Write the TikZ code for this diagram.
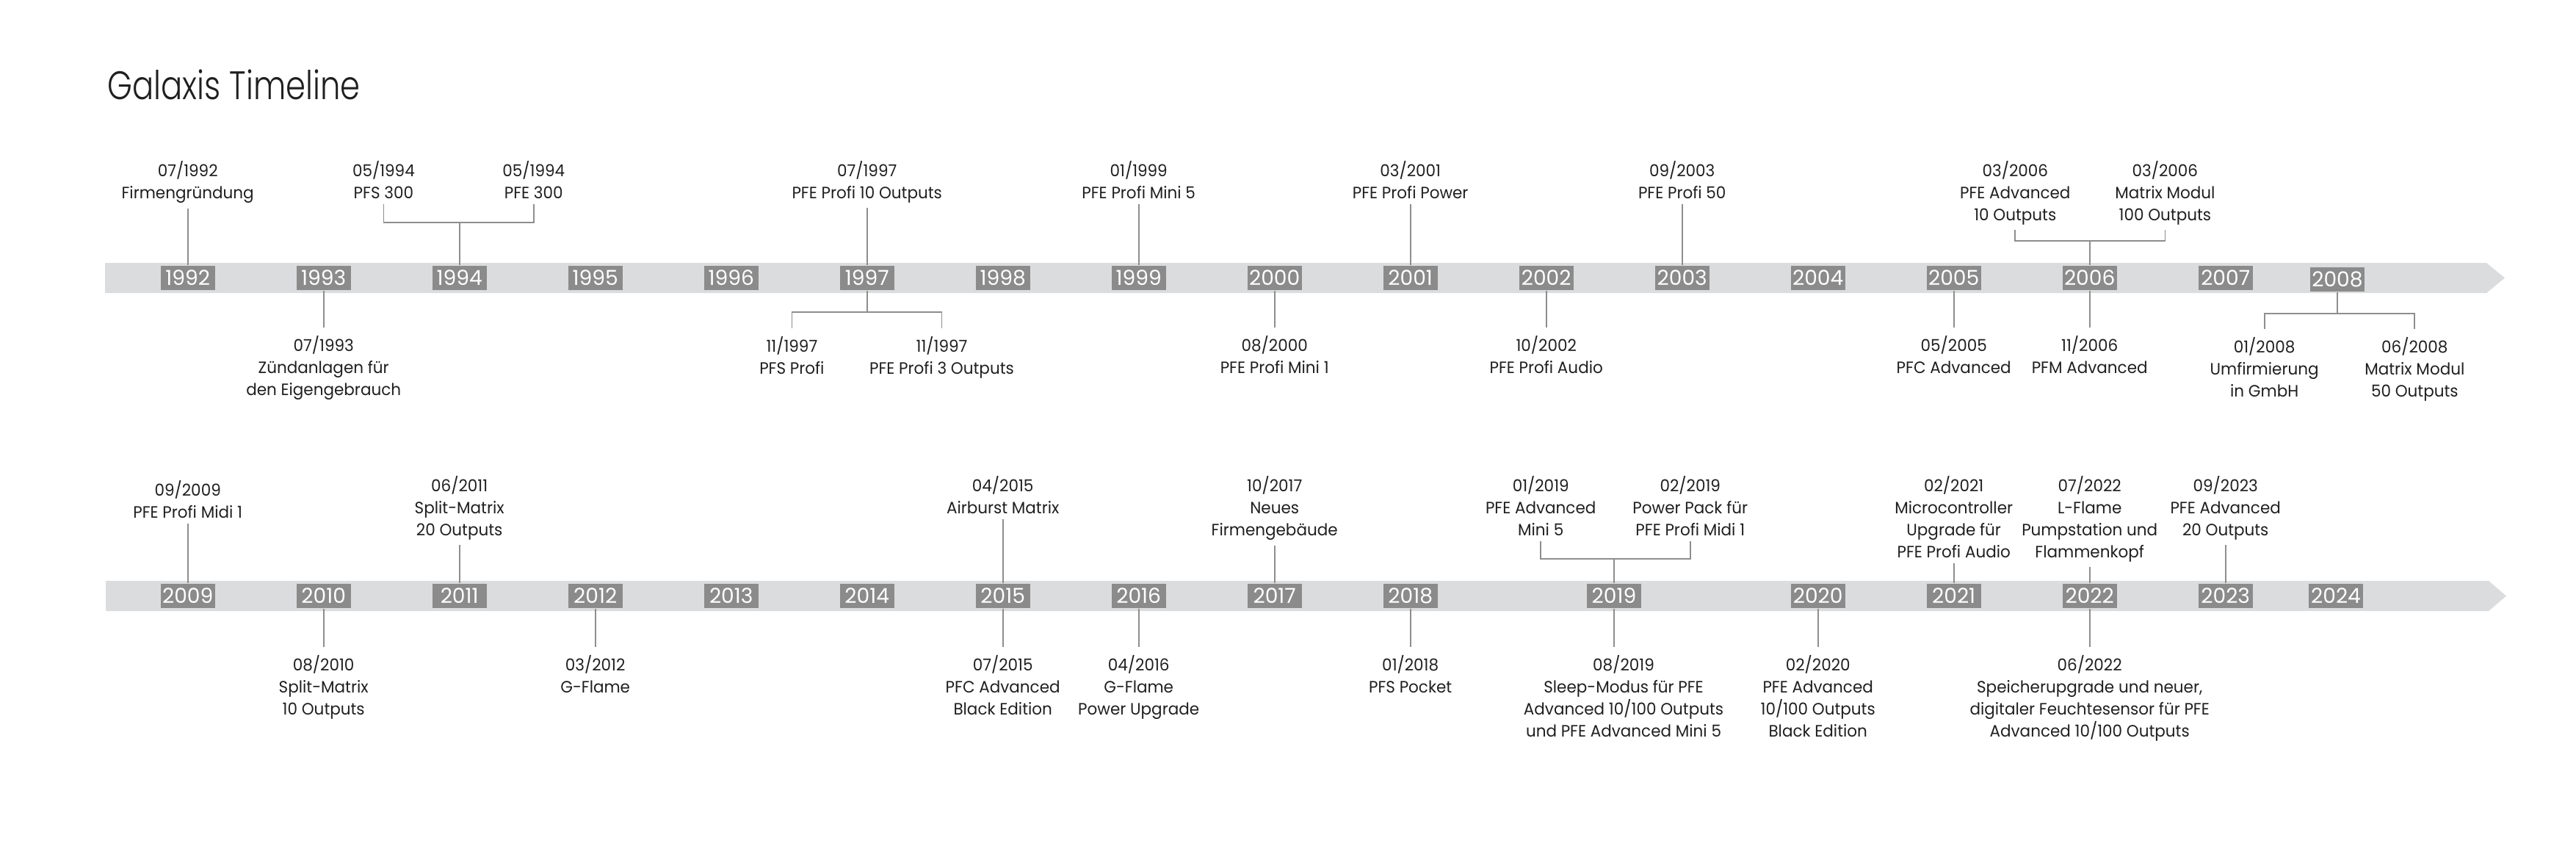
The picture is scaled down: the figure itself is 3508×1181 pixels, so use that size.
\documentclass[tikz,border=0pt]{standalone}
\usepackage{fontspec}
\setmainfont{Poppins}[FakeStretch=0.96]
\newfontfamily\yearfont{Poppins}
\IfFontExistsTF{Poppins Light}
	{\newfontfamily\titlefont{Poppins Light}[FakeStretch=0.8]}
	{\newfontfamily\titlefont{Poppins}[FakeStretch=0.8]}
\definecolor{bandgray}{HTML}{DBDCDE}
\definecolor{boxgray}{HTML}{8B8B8B}
\definecolor{linegray}{HTML}{8E8E8E}
\definecolor{ink}{HTML}{1F1F1F}
\newcommand{\lblfont}{\fontsize{6.37}{8.54}\selectfont}
\begin{document}
\begin{tikzpicture}[x=0.01cm,y=-0.01cm,
	yearbox/.style={fill=boxgray,text=white,inner sep=0pt,
	minimum width=0.74cm,minimum height=0.33cm,font=\yearfont\fontsize{8}{9}\selectfont},
	toplbl/.style={anchor=north,align=center,inner xsep=0pt,inner ysep=0.06cm,text=ink,font=\lblfont},
	botlbl/.style={anchor=north,align=center,inner xsep=0pt,inner ysep=0.11cm,text=ink,font=\lblfont},
	link/.style={draw=linegray,line width=0.5pt}]
\useasboundingbox (0,0) rectangle (3508,1181);
\node[anchor=base west,inner sep=0pt,text=ink,font=\titlefont\fontsize{15.4}{18}\selectfont] (title) at (146,135) {Galaxis Timeline};
% bands
\fill[bandgray] (143,358) -- (3386,358) -- (3411,378.5) -- (3386,399) -- (143,399) -- cycle;
\fill[bandgray] (144,791) -- (3389,791) -- (3413,811.5) -- (3389,832) -- (144,832) -- cycle;
% years
\foreach \yr [count=\k from 0] in {1992,...,2007}
	\node[yearbox] (y\yr) at (255.7+185*\k,378.5) {\yr};
\node[yearbox] (y2008) at (3183,380.5) {2008};
\foreach \yr [count=\k from 0] in {2009,...,2018}
	\node[yearbox] (y\yr) at (255.7+185*\k,811.5) {\yr};
\node[yearbox] (y2019) at (2198,811.5) {2019};
\foreach \yr [count=\k from 12] in {2020,...,2023}
	\node[yearbox] (y\yr) at (255.7+185*\k,811.5) {\yr};
\node[yearbox] (y2024) at (3181,811.5) {2024};
% events 1992 - 2008
\node[toplbl] (e9207) at (255.7,213) {07/1992\\Firmengründung};
\node[botlbl] (e9307) at (440.7,446) {07/1993\\Zündanlagen für\\den Eigengebrauch};
\node[toplbl] (e9405a) at (522.4,213) {05/1994\\PFS 300};
\node[toplbl] (e9405b) at (726.8,213) {05/1994\\PFE 300};
\node[toplbl] (e9707) at (1180.7,213) {07/1997\\PFE Profi 10 Outputs};
\node[botlbl] (e9711a) at (1078.4,446.7) {11/1997\\PFS Profi};
\node[botlbl] (e9711b) at (1282.5,446.7) {11/1997\\PFE Profi 3 Outputs};
\node[toplbl] (e9901) at (1550.7,213) {01/1999\\PFE Profi Mini 5};
\node[botlbl] (e0008) at (1735.7,446) {08/2000\\PFE Profi Mini 1};
\node[toplbl] (e0103) at (1920.7,213) {03/2001\\PFE Profi Power};
\node[botlbl] (e0210) at (2105.7,446) {10/2002\\PFE Profi Audio};
\node[toplbl] (e0309) at (2290.7,213) {09/2003\\PFE Profi 50};
\node[botlbl] (e0505) at (2660.7,446) {05/2005\\PFC Advanced};
\node[toplbl] (e0603a) at (2744.3,213) {03/2006\\PFE Advanced\\10 Outputs};
\node[toplbl] (e0603b) at (2948.4,213) {03/2006\\Matrix Modul\\100 Outputs};
\node[botlbl] (e0611) at (2845.7,446) {11/2006\\PFM Advanced};
\node[botlbl] (e0801) at (3083.6,448) {01/2008\\Umfirmierung\\in GmbH};
\node[botlbl] (e0806) at (3288.3,448) {06/2008\\Matrix Modul\\50 Outputs};
% events 2009 - 2024
\node[toplbl] (e0909) at (255.7,648) {09/2009\\PFE Profi Midi 1};
\node[botlbl] (e1008) at (440.7,880.7) {08/2010\\Split-Matrix\\10 Outputs};
\node[toplbl] (e1106) at (625.7,642) {06/2011\\Split-Matrix\\20 Outputs};
\node[botlbl] (e1203) at (810.7,880.7) {03/2012\\G-Flame};
\node[toplbl] (e1504) at (1365.7,642) {04/2015\\Airburst Matrix};
\node[botlbl] (e1507) at (1365.7,880.7) {07/2015\\PFC Advanced\\Black Edition};
\node[botlbl] (e1604) at (1550.7,880.7) {04/2016\\G-Flame\\Power Upgrade};
\node[toplbl] (e1710) at (1735.7,642) {10/2017\\Neues\\Firmengebäude};
\node[botlbl] (e1801) at (1920.7,880.7) {01/2018\\PFS Pocket};
\node[toplbl] (e1901) at (2098.2,642) {01/2019\\PFE Advanced\\Mini 5};
\node[toplbl] (e1902) at (2301.8,642) {02/2019\\Power Pack für\\PFE Profi Midi 1};
\node[botlbl] (e1908) at (2211,880.7) {08/2019\\Sleep-Modus für PFE\\Advanced 10/100 Outputs\\und PFE Advanced Mini 5};
\node[botlbl] (e2002) at (2475.7,880.7) {02/2020\\PFE Advanced\\10/100 Outputs\\Black Edition};
\node[toplbl] (e2102) at (2660.7,642) {02/2021\\Microcontroller\\Upgrade für\\PFE Profi Audio};
\node[toplbl] (e2207) at (2845.7,642) {07/2022\\L-Flame\\Pumpstation und\\Flammenkopf};
\node[botlbl] (e2206) at (2845.7,880.7) {06/2022\\Speicherupgrade und neuer,\\digitaler Feuchtesensor für PFE\\Advanced 10/100 Outputs};
\node[toplbl] (e2309) at (3030.7,642) {09/2023\\PFE Advanced\\20 Outputs};
% connectors
\foreach \a/\b in {e9207/y1992,e9707/y1997,e9901/y1999,e0103/y2001,e0309/y2003,
	e0909/y2009,e1106/y2011,e1504/y2015,e1710/y2017,e2102/y2021,e2207/y2022,e2309/y2023}
	\draw[link] (\a.south) -- (\b.north);
\foreach \a/\b in {y1993/e9307,y2000/e0008,y2002/e0210,y2005/e0505,y2006/e0611,
	y2010/e1008,y2012/e1203,y2015/e1507,y2016/e1604,y2018/e1801,y2020/e2002,y2022/e2206}
	\draw[link] (\a.south) -- (\b.north);
\draw[link] (y2019.south) -- (y2019.south |- e1908.north);
% brackets
\coordinate (b1994) at (625.7,303);
\draw[link] (e9405a.south) |- (b1994) -| (e9405b.south);
\draw[link] (b1994) -- (y1994.north);
\coordinate (b1997) at (1180.7,425);
\draw[link] (e9711a.north) |- (b1997) -| (e9711b.north);
\draw[link] (y1997.south) -- (b1997);
\coordinate (b2006) at (2845.7,328);
\draw[link] (e0603a.south) |- (b2006) -| (e0603b.south);
\draw[link] (b2006) -- (y2006.north);
\coordinate (b2008) at (3183,426.7);
\draw[link] (e0801.north) |- (b2008) -| (e0806.north);
\draw[link] (y2008.south) -- (b2008);
\coordinate (b2019) at (2198,761);
\draw[link] (e1901.south) |- (b2019) -| (e1902.south);
\draw[link] (b2019) -- (y2019.north);
\end{tikzpicture}
\end{document}
